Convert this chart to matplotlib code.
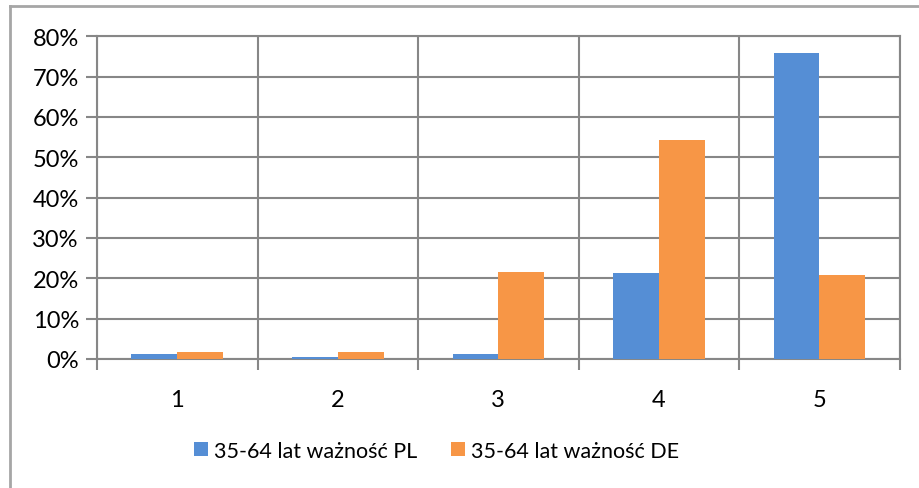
import numpy as np
import matplotlib
matplotlib.use('Agg')
import matplotlib.pyplot as plt
from matplotlib.lines import Line2D
from matplotlib.ticker import FixedLocator, FuncFormatter

categories = ['1', '2', '3', '4', '5']
pl_values = [1.2, 0.5, 1.2, 21.2, 75.8]   # %
de_values = [1.7, 1.7, 21.5, 54.2, 20.9]  # %
series_names = ['35-64 lat ważność PL', '35-64 lat ważność DE']

plt.rcParams['font.family'] = ['Lato', 'DejaVu Sans']
grid_col = '#878787'

fig = plt.figure(figsize=(9.19, 4.89), dpi=100)
ax = fig.add_axes([0.1055, 0.264, 0.8735, 0.660])

x = np.arange(len(categories))
w = 0.285
ax.bar(x - w / 2, pl_values, w, color='#558ED5', label=series_names[0], zorder=3)
ax.bar(x + w / 2, de_values, w, color='#F79646', label=series_names[1], zorder=3)

ax.set_xlim(-0.5, len(categories) - 0.5)
ax.set_ylim(0, 80)
ax.set_yticks(np.arange(0, 81, 10))
ax.yaxis.set_major_formatter(FuncFormatter(lambda v, p: '{:.0f}%'.format(v)))

# category labels at centres, ticks and grid on the boundaries
ax.set_xticks(x)
ax.set_xticklabels(categories)
ax.xaxis.set_minor_locator(FixedLocator(np.arange(-0.5, len(categories), 1.0)))
ax.tick_params(axis='x', which='major', length=0, pad=22, labelsize=17)
ax.tick_params(axis='x', which='minor', length=8, width=1.5, color=grid_col)
ax.tick_params(axis='y', length=8, width=1.5, color=grid_col, labelsize=17, pad=5)

ax.grid(True, axis='y', color=grid_col, linewidth=1.5, zorder=0)
ax.grid(True, axis='x', which='minor', color=grid_col, linewidth=1.5, zorder=0)
for s in ax.spines.values():
    s.set_color(grid_col)
    s.set_linewidth(1.5)

fig.legend(loc='center', bbox_to_anchor=(0.475, 0.076), ncol=2, frameon=False,
           fontsize=15.5, handlelength=0.65, handleheight=0.65, handletextpad=0.25,
           columnspacing=1.6)

# outer chart border (only top and left show in the crop)
fig.add_artist(Line2D([10 / 919, 10 / 919], [0, 1 - 7 / 489], color='#a6a6a6', lw=2,
                      transform=fig.transFigure))
fig.add_artist(Line2D([10 / 919, 1], [1 - 7 / 489, 1 - 7 / 489], color='#a6a6a6', lw=2,
                      transform=fig.transFigure))

fig.savefig('out.png', dpi=100)
